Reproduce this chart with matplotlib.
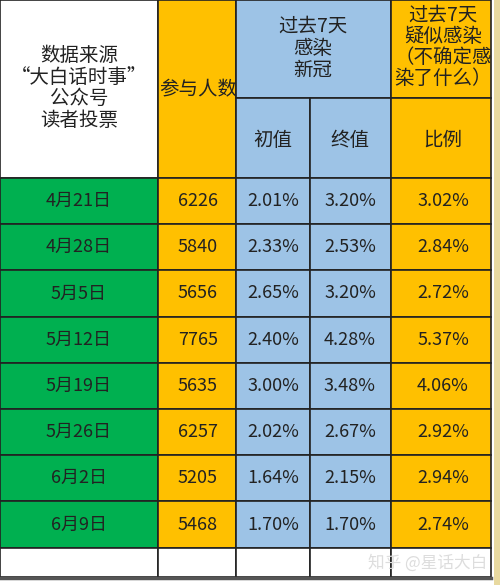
import matplotlib
matplotlib.use("Agg")
import matplotlib.pyplot as plt
from matplotlib.patches import Rectangle

plt.rcParams['font.family'] = ['Noto Sans CJK SC', 'DejaVu Sans']

dates = ["4月21日", "4月28日", "5月5日", "5月12日", "5月19日", "5月26日", "6月2日", "6月9日"]
participants = [6226, 5840, 5656, 7765, 5635, 6257, 5205, 5468]
initial = [2.01, 2.33, 2.65, 2.40, 3.00, 2.02, 1.64, 1.70]
final = [3.20, 2.53, 3.20, 4.28, 3.48, 2.67, 2.15, 1.70]
ratio = [3.02, 2.84, 2.72, 5.37, 4.06, 2.92, 2.94, 2.74]

GREEN, ORANGE, BLUE = "#00B050", "#FFC000", "#9DC3E6"
TXT = "#222222"

fig = plt.figure(figsize=(5, 5.85), dpi=100)
ax = fig.add_axes([0, 0, 1, 1])
ax.set_xlim(0, 500)
ax.set_ylim(585, 0)
ax.axis("off")

xs = [0, 158, 236, 310, 391, 491]
head_mid, head_bot = 98, 178
rh = 46.2

def cell(x0, y0, x1, y1, fc, lw=1.2, ec="#222222"):
    ax.add_patch(Rectangle((x0, y0), x1 - x0, y1 - y0, facecolor=fc, edgecolor=ec, linewidth=lw))

cell(xs[0], 0, xs[1], head_bot, "white")
cell(xs[1], 0, xs[2], head_bot, ORANGE)
cell(xs[2], 0, xs[4], head_mid, BLUE)
cell(xs[2], head_mid, xs[3], head_bot, BLUE)
cell(xs[3], head_mid, xs[4], head_bot, BLUE)
cell(xs[4], 0, xs[5], head_mid, ORANGE)
cell(xs[4], head_mid, xs[5], head_bot, ORANGE)
ax.add_patch(Rectangle((494, 0), 6, 585, facecolor="#E8D9A0", edgecolor="none"))

hf = 14
fs = 13
ax.text(79, 88, "数据来源\n“大白话时事”\n公众号\n读者投票", ha="center", va="center", fontsize=hf, color=TXT, linespacing=1.05)
ax.text(198, 90, "参与人数", ha="center", va="center", fontsize=hf, color=TXT)
ax.text(313, 48, "过去7天\n感染\n新冠", ha="center", va="center", fontsize=hf, color=TXT, linespacing=1.05)
ax.text(443, 47, "过去7天\n疑似感染\n（不确定感\n染了什么）", ha="center", va="center", fontsize=hf, color=TXT, linespacing=1.0)
ax.text(273, 140, "初值", ha="center", va="center", fontsize=hf, color=TXT)
ax.text(350, 140, "终值", ha="center", va="center", fontsize=hf, color=TXT)
ax.text(443, 140, "比例", ha="center", va="center", fontsize=hf, color=TXT)

for i, d in enumerate(dates):
    y0 = head_bot + i * rh
    y1 = y0 + rh
    yc = (y0 + y1) / 2
    cell(xs[0], y0, xs[1], y1, GREEN)
    cell(xs[1], y0, xs[2], y1, ORANGE)
    cell(xs[2], y0, xs[3], y1, BLUE)
    cell(xs[3], y0, xs[4], y1, BLUE)
    cell(xs[4], y0, xs[5], y1, ORANGE)
    ax.text(79, yc, d, ha="center", va="center", fontsize=fs, color=TXT)
    ax.text(198, yc, str(participants[i]), ha="center", va="center", fontsize=fs, color=TXT)
    ax.text(273, yc, f"{initial[i]:.2f}%", ha="center", va="center", fontsize=fs, color=TXT)
    ax.text(350, yc, f"{final[i]:.2f}%", ha="center", va="center", fontsize=fs, color=TXT)
    ax.text(443, yc, f"{ratio[i]:.2f}%", ha="center", va="center", fontsize=fs, color=TXT)

yb = head_bot + len(dates) * rh
for j in range(5):
    cell(xs[j], yb, xs[j + 1], 577, "white")
ax.plot([0, 491], [578, 578], color="#555555", lw=2.5)
ax.text(487, 563, "知乎 @星话大白", ha="right", va="center", fontsize=12, color="#DDDDDD")

fig.savefig("out.png", dpi=100)
